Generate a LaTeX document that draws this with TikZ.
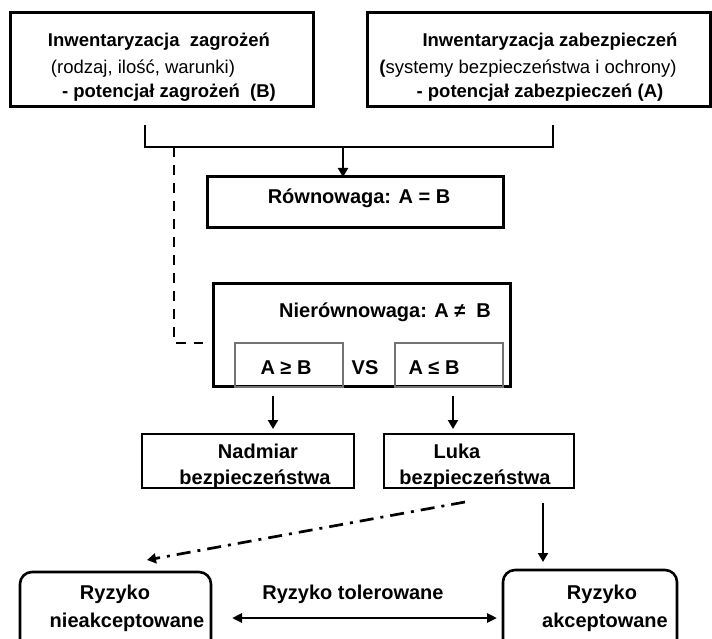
\documentclass[tikz,border=0pt]{standalone}
\usepackage{fontspec}
\setmainfont{Liberation Sans}
\usetikzlibrary{arrows.meta}
\begin{document}
\begin{tikzpicture}[x=1pt,y=-1pt,
  box/.style={draw, line width=3pt, inner sep=0pt, outer sep=0pt},
  thinbox/.style={draw, line width=2.2pt, inner sep=0pt, outer sep=0pt},
  graybox/.style={draw=black!55, line width=1.8pt, inner sep=0pt, outer sep=0pt},
  rbox/.style={draw, line width=2.6pt, rounded corners=12pt, inner sep=0pt, outer sep=0pt},
  bt/.style={inner sep=0pt, anchor=base, font=\fontsize{18.5}{22}\selectfont\bfseries},
  rt/.style={inner sep=0pt, anchor=base, font=\fontsize{18.5}{22}\selectfont},
  bb/.style={inner sep=0pt, anchor=base, font=\fontsize{20}{24}\selectfont\bfseries},
  conn/.style={line width=2.7pt},
  arr/.style={line width=2.7pt, -{Triangle[length=9pt,width=10pt]}},
  darr/.style={line width=2.7pt, {Triangle[length=10pt,width=9pt]}-{Triangle[length=10pt,width=9pt]}},
]
\clip (0,0) rectangle (712,639);
\fill[white] (0,0) rectangle (712,639);

% top boxes
\node[box, minimum width=303pt, minimum height=94pt] (tl) at (161.5,60) {};
\node[box, minimum width=343pt, minimum height=94pt] (tr) at (538.5,60) {};
\node[bt] (tl1) at (159,47) {Inwentaryzacja\ \ zagrożeń};
\node[rt] (tl2) at (143,74) {(rodzaj, ilość, warunki)};
\node[bt] (tl3) at (169,98) {- potencjał zagrożeń\ \ (B)};
\node[bt] (tr1) at (550,47) {Inwentaryzacja zabezpieczeń};
\node[rt] (tr2) at (528,74) {{\bfseries (}systemy bezpieczeństwa i ochrony)};
\node[bt] (tr3) at (540,98) {- potencjał zabezpieczeń (A)};

% equilibrium
\node[box, minimum width=296pt, minimum height=51pt] (eq) at (355,202.5) {};
\node[bb] (eqt) at (359,204) {Równowaga: A = B};

% non-equilibrium
\node[box, minimum width=297pt, minimum height=103pt] (neq) at (361.5,334.5) {};
\node[bb] (neqt) at (385,317) {Nierównowaga: A ≠\ \ B};
\node[graybox, minimum width=108pt, minimum height=44pt] (ge) at (289,365) {};
\node[graybox, minimum width=108pt, minimum height=44pt] (le) at (449,365) {};
\node[bb] (get) at (286,374) {A ≥ B};
\node[bb] (vs) at (365,374) {VS};
\node[bb] (let) at (434,374) {A ≤ B};

% surplus / gap
\node[thinbox, minimum width=212pt, minimum height=54pt] (nad) at (248,461) {};
\node[thinbox, minimum width=190pt, minimum height=54pt] (luka) at (479,461) {};
\node[bb] (nad1) at (258,458) {Nadmiar};
\node[bb] (nad2) at (255,484) {bezpieczeństwa};
\node[bb] (luka1) at (457,458) {Luka};
\node[bb] (luka2) at (475,484) {bezpieczeństwa};

% risk boxes
\node[rbox, minimum width=191pt, minimum height=90pt] (rl) at (115.5,617) {};
\node[rbox, minimum width=174pt, minimum height=90pt] (rr) at (590,615) {};
\node[bb] (rl1) at (115,599) {Ryzyko};
\node[bb] (rl2) at (127,627) {nieakceptowane};
\node[bb] (rr1) at (602,599) {Ryzyko};
\node[bb] (rr2) at (605,627) {akceptowane};
\node[bb] (tol) at (353,599) {Ryzyko tolerowane};

% connectors
\coordinate (tlc) at (145,125);
\coordinate (trc) at (553,125);
\coordinate (split) at (343,147);
\coordinate (dstart) at (174,147);
\coordinate (dend) at (203,343);
\draw[conn] (tlc) |- (trc |- split) -- (trc);
\draw[arr] (split) -- (split |- eq.north);
\draw[line width=2.7pt, dash pattern=on 10pt off 8pt] (dstart) |- (dend);

\coordinate (a1) at (273,396);
\coordinate (a2) at (453,396);
\draw[arr, shorten >=5pt] (a1) -- (a1 |- nad.north);
\draw[arr, shorten >=5pt] (a2) -- (a2 |- luka.north);

\coordinate (dd1) at (465,502);
\coordinate (dd2) at (147,560);
\draw[arr, dash pattern=on 14pt off 7pt on 3pt off 7pt] (dd1) -- (dd2);
\coordinate (c3) at (543,503);
\draw[arr, shorten >=8pt] (c3) -- (c3 |- rr.north);

\coordinate (la) at (232,618);
\coordinate (ra) at (497,618);
\draw[darr] (la) -- (ra);
\end{tikzpicture}
\end{document}
